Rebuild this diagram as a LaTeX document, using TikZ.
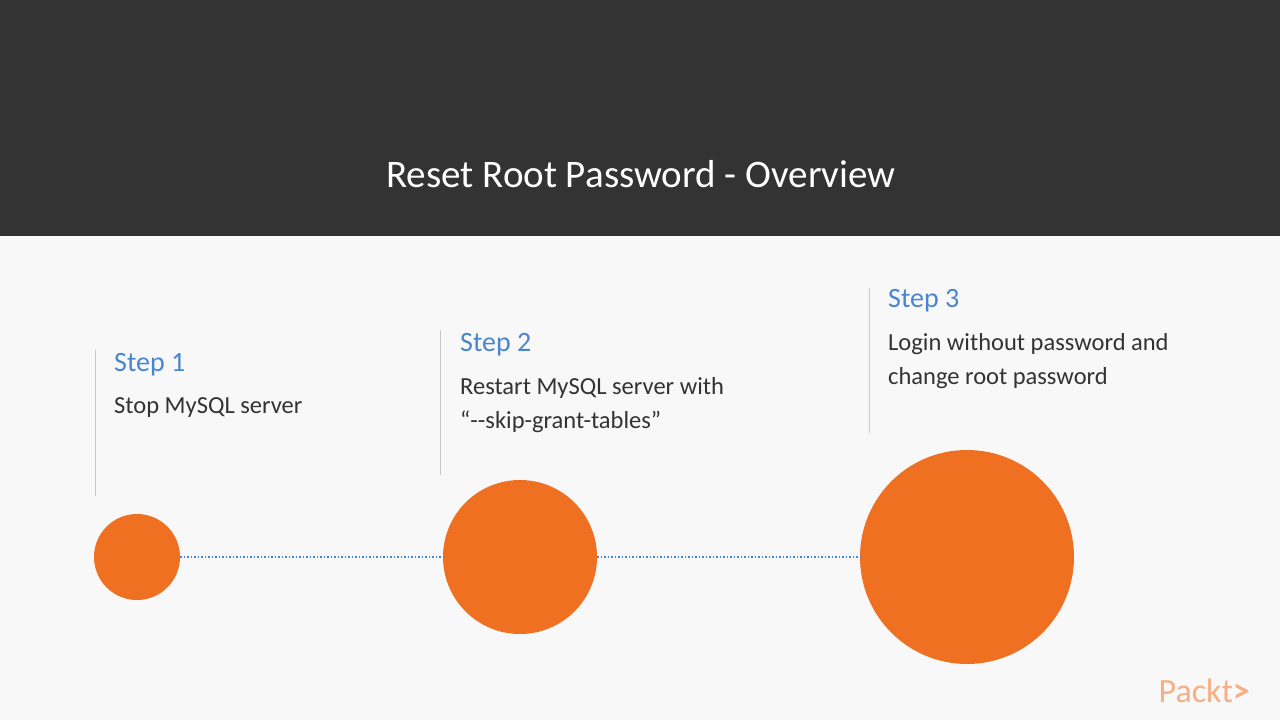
\documentclass[tikz,border=0pt]{standalone}
\usepackage{fontspec}
\setmainfont{Carlito}
\definecolor{hdr}{HTML}{333333}
\definecolor{bg}{HTML}{F8F8F8}
\definecolor{stepc}{HTML}{4A86D0}
\definecolor{txt}{HTML}{333333}
\definecolor{orng}{HTML}{F07022}
\definecolor{dotc}{HTML}{4A86D0}
\definecolor{vline}{HTML}{C8C8C8}
\begin{document}
\begin{tikzpicture}[x=1pt,y=-1pt,
  stephead/.style={anchor=base west,inner sep=0,text=stepc,font=\fontsize{28}{30}\selectfont},
  body/.style={anchor=north west,inner sep=0,text=txt,font=\fontsize{24.5}{34}\selectfont,align=left},
  dot/.style={circle,fill=orng,inner sep=0},
  vl/.style={vline,line width=1pt},
  conn/.style={dotc,line width=1.3pt,dash pattern=on 1.3pt off 2.2pt}]
\useasboundingbox (0,0) rectangle (1280,720);
\fill[bg] (0,0) rectangle (1280,720);
\fill[hdr] (0,0) rectangle (1280,236);
\node[text=white,font=\fontsize{39}{40}\selectfont,anchor=base,inner sep=0] (title) at (641,187) {Reset Root Password - Overview};
\draw[vl] (95,350) -- (95,496);
\draw[vl] (440,330) -- (440,475);
\draw[vl] (869,288) -- (869,433);
\node[stephead] (s1) at (114,371) {Step 1};
\node[body] (b1) at (114,397) {Stop MySQL server};
\node[stephead] (s2) at (460,351) {Step 2};
\node[body] (b2) at (460,377) {Restart MySQL server with\\“-{}-skip-grant-tables”};
\node[stephead] (s3) at (888,307) {Step 3};
\node[body] (b3) at (888,333) {Login without password and\\change root password};
\node[dot,minimum size=86] (c1) at (137,557) {};
\node[dot,minimum size=154] (c2) at (520,557) {};
\node[dot,minimum size=214] (c3) at (967,557) {};
\draw[conn] (c1.east) -- (c2.west);
\draw[conn] (c2.east) -- (c3.west);
\node[text=orng!55,font=\fontsize{34}{36}\selectfont,anchor=base east,inner sep=0] (logo) at (1250,702) {Packt\textbf{>}};
\end{tikzpicture}
\end{document}
